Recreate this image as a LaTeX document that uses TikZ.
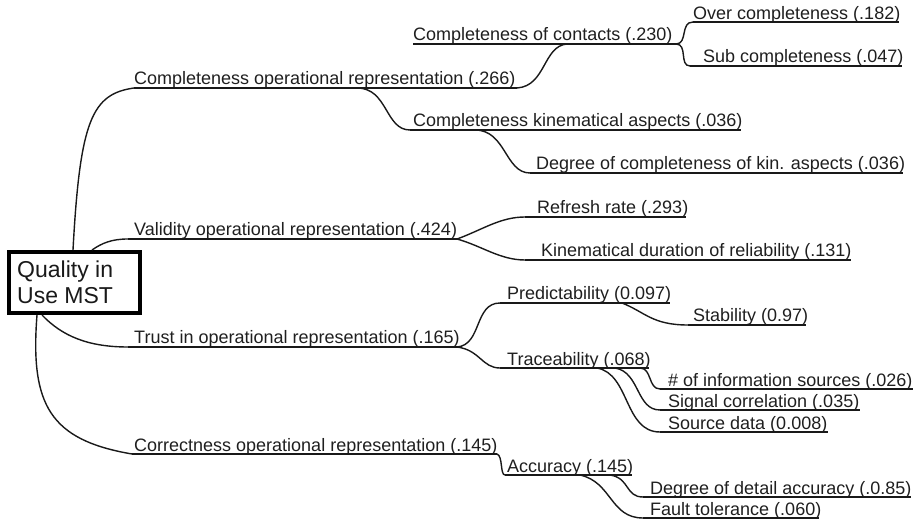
\documentclass[tikz,border=0pt]{standalone}
\usepackage{fontspec}
\setmainfont{Liberation Sans}
\begin{document}
\begin{tikzpicture}[x=1pt,y=-1pt,
  lbl/.style={anchor=base west,inner sep=0pt,font=\fontsize{18}{20}\selectfont,text=black!88},
  ul/.style={line width=1.6pt,black!90},
  link/.style={line width=1.4pt,black!90},
  rootbox/.style={draw,line width=4pt,minimum width=131pt,minimum height=61pt,inner sep=0pt,text=black!90},
  roottxt/.style={anchor=base west,inner sep=0pt,font=\fontsize{23}{26}\selectfont,text=black!90}]
\useasboundingbox (0,0) rectangle (921,521);
% root
\node[rootbox] (root) at (74.5,282.5) {};
\node[roottxt] (rootA) at (17,278) {Quality in};
\node[roottxt] (rootB) at (17,304) {Use MST};
\coordinate (rt1) at (73,250);
\coordinate (rt2) at (92,250);
\coordinate (rb1) at (42,315);
\coordinate (rb2) at (37,315);
% labels
\node[lbl] (cop) at (134,85) {Completeness operational representation (.266)};
\node[lbl] (coc) at (413,41) {Completeness of contacts (.230)};
\node[lbl] (ovc) at (693,20) {Over completeness (.182)};
\node[lbl] (sub) at (703,63) {Sub completeness (.047)};
\node[lbl] (cka) at (413,127) {Completeness kinematical aspects (.036)};
\node[lbl] (dck) at (536,170) {Degree of completeness of kin. aspects (.036)};
\node[lbl] (vor) at (134,236) {Validity operational representation (.424)};
\node[lbl] (rr) at (537,214) {Refresh rate (.293)};
\node[lbl] (kdr) at (541,257) {Kinematical duration of reliability (.131)};
\node[lbl] (tor) at (134,344) {Trust in operational representation (.165)};
\node[lbl] (pred) at (507,300) {Predictability (0.097)};
\node[lbl] (stab) at (693,322) {Stability (0.97)};
\node[lbl] (trac) at (507,365) {Traceability (.068)};
\node[lbl] (info) at (668,386) {\# of information sources (.026)};
\node[lbl] (sig) at (668,407) {Signal correlation (.035)};
\node[lbl] (src) at (668,429) {Source data (0.008)};
\node[lbl] (cor) at (134,451) {Correctness operational representation (.145)};
\node[lbl] (acc) at (507,472) {Accuracy (.145)};
\node[lbl] (dda) at (650,494) {Degree of detail accuracy (.0.85)};
\node[lbl] (ft) at (650,515) {Fault tolerance (.060)};
% underline coordinates
\coordinate (copA) at (134,88); \coordinate (copB) at (517,88);
\coordinate (cocA) at (413,44); \coordinate (cocB) at (676,44);
\coordinate (ovcA) at (693,22); \coordinate (ovcB) at (899,22);
\coordinate (subA) at (690,66); \coordinate (subB) at (902,66);
\coordinate (ckaA) at (410,130); \coordinate (ckaB) at (741,130);
\coordinate (dckA) at (530,173); \coordinate (dckB) at (903,173);
\coordinate (vorA) at (128,239); \coordinate (vorB) at (457,239);
\coordinate (rrA) at (525,217); \coordinate (rrB) at (686,217);
\coordinate (kdrA) at (525,260); \coordinate (kdrB) at (851,260);
\coordinate (torA) at (128,347); \coordinate (torB) at (457,347);
\coordinate (predA) at (500,303); \coordinate (predB) at (670,303);
\coordinate (stabA) at (688,325); \coordinate (stabB) at (806,325);
\coordinate (tracA) at (500,368); \coordinate (tracB) at (649,368);
\coordinate (infoA) at (660,389); \coordinate (infoB) at (913,389);
\coordinate (sigA) at (660,410); \coordinate (sigB) at (860,410);
\coordinate (srcA) at (660,432); \coordinate (srcB) at (828,432);
\coordinate (corA) at (132,454); \coordinate (corB) at (497,454);
\coordinate (accA) at (505,475); \coordinate (accB) at (632,475);
\coordinate (ddaA) at (643,497); \coordinate (ddaB) at (911,497);
\coordinate (ftA) at (643,518); \coordinate (ftB) at (819,518);
% underlines
\foreach \n in {cop,coc,ovc,sub,cka,dck,vor,rr,kdr,tor,pred,stab,trac,info,sig,src,cor,acc,dda,ft}
  \draw[ul] (\n A) -- (\n B);
% branch points on underlines
\coordinate (copM) at (357,88);
\coordinate (cocM) at (567,44);
\coordinate (ckaM) at (475,130);
\coordinate (predM) at (622,303);
\coordinate (tr1) at (640,368);
\coordinate (tr2) at (615,368);
\coordinate (tr3) at (597,368);
\coordinate (acc1) at (610,475);
\coordinate (acc2) at (580,475);
% connectors
\draw[link] (rt1) .. controls (80,120) and (92,94) .. (copA);
\draw[link] (rt2) .. controls (102,243) and (112,239) .. (vorA);
\draw[link] (rb1) .. controls (62,336) and (88,347) .. (torA);
\draw[link] (rb2) .. controls (30,405) and (50,440) .. (corA);
\draw[link] (copM) .. controls (388,88) and (385,130) .. (ckaA);
\draw[link] (copB) .. controls (546,86) and (543,46) .. (cocM);
\draw[link] (cocB) .. controls (688,44) and (680,22) .. (ovcA);
\draw[link] (cocB) .. controls (688,44) and (679,66) .. (subA);
\draw[link] (ckaM) .. controls (506,130) and (505,173) .. (dckA);
\draw[link] (vorB) .. controls (482,230) and (500,217) .. (rrA);
\draw[link] (vorB) .. controls (482,246) and (500,260) .. (kdrA);
\draw[link] (torB) .. controls (482,345) and (474,303) .. (predA);
\draw[link] (torB) .. controls (480,350) and (482,368) .. (tracA);
\draw[link] (predM) .. controls (645,312) and (652,325) .. (stabA);
\draw[link] (tr1) .. controls (652,368) and (648,389) .. (infoA);
\draw[link] (tr2) .. controls (640,372) and (636,410) .. (sigA);
\draw[link] (tr3) .. controls (630,374) and (624,432) .. (srcA);
\draw[link] (corB) .. controls (503,456) and (500,475) .. (accA);
\draw[link] (acc1) .. controls (630,478) and (625,497) .. (ddaA);
\draw[link] (acc2) .. controls (612,482) and (610,518) .. (ftA);
\end{tikzpicture}
\end{document}
